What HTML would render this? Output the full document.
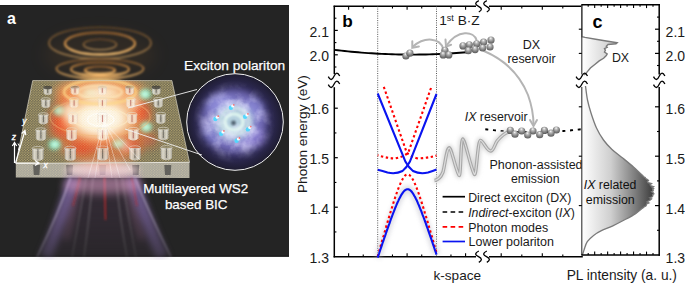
<!DOCTYPE html><html><head><meta charset="utf-8"><style>html,body{margin:0;padding:0;background:#fff;overflow:hidden}svg{display:block}text{font-family:"Liberation Sans",sans-serif}</style></head><body>
<svg width="685" height="283" viewBox="0 0 685 283">
<defs>
<filter id="b03" x="-50%" y="-50%" width="200%" height="200%"><feGaussianBlur stdDeviation="0.35"/></filter>
<filter id="b05" x="-50%" y="-50%" width="200%" height="200%"><feGaussianBlur stdDeviation="0.6"/></filter>
<filter id="b1" x="-50%" y="-50%" width="200%" height="200%"><feGaussianBlur stdDeviation="1"/></filter>
<filter id="b15" x="-50%" y="-50%" width="200%" height="200%"><feGaussianBlur stdDeviation="1.5"/></filter>
<filter id="b2" x="-50%" y="-50%" width="200%" height="200%"><feGaussianBlur stdDeviation="2"/></filter>
<filter id="b3" x="-50%" y="-50%" width="200%" height="200%"><feGaussianBlur stdDeviation="3"/></filter>
<filter id="b4" x="-50%" y="-50%" width="200%" height="200%"><feGaussianBlur stdDeviation="4"/></filter>
<filter id="b5" x="-50%" y="-50%" width="200%" height="200%"><feGaussianBlur stdDeviation="5"/></filter>
<filter id="b8" x="-50%" y="-50%" width="200%" height="200%"><feGaussianBlur stdDeviation="8"/></filter>
<radialGradient id="sph" cx="0.5" cy="0.4" r="0.6" fx="0.45" fy="0.22"><stop offset="0" stop-color="#ffffff"/><stop offset="0.25" stop-color="#c4c4c4"/><stop offset="0.6" stop-color="#8c8c8c"/><stop offset="1" stop-color="#585858"/></radialGradient>
<linearGradient id="dxg" x1="582" y1="0" x2="618" y2="0" gradientUnits="userSpaceOnUse"><stop offset="0" stop-color="#ffffff"/><stop offset="1" stop-color="#c4c4c4"/></linearGradient>
<linearGradient id="ixg" x1="582" y1="0" x2="654" y2="0" gradientUnits="userSpaceOnUse"><stop offset="0" stop-color="#ffffff"/><stop offset="0.4" stop-color="#cfcfcf"/><stop offset="0.75" stop-color="#7a7a7a"/><stop offset="1" stop-color="#3a3a3a"/></linearGradient>
<radialGradient id="circ" cx="0.5" cy="0.5" r="0.5"><stop offset="0" stop-color="#a8b0e0"/><stop offset="0.3" stop-color="#7a70c4"/><stop offset="0.55" stop-color="#4c4488"/><stop offset="0.78" stop-color="#2c2850"/><stop offset="1" stop-color="#1e1c30"/></radialGradient>
<radialGradient id="glow" cx="0.5" cy="0.5" r="0.5"><stop offset="0" stop-color="#ffffff"/><stop offset="0.35" stop-color="#fff2d0"/><stop offset="0.65" stop-color="#f8b070" stop-opacity="0.75"/><stop offset="1" stop-color="#f07030" stop-opacity="0"/></radialGradient>
<radialGradient id="redglow" cx="0.5" cy="0.5" r="0.5"><stop offset="0" stop-color="#ff3418" stop-opacity="0.95"/><stop offset="0.6" stop-color="#e82a14" stop-opacity="0.6"/><stop offset="1" stop-color="#c02010" stop-opacity="0"/></radialGradient>
<linearGradient id="beam" x1="33" y1="0" x2="172" y2="0" gradientUnits="userSpaceOnUse"><stop offset="0" stop-color="#5a4a80" stop-opacity="0.1"/><stop offset="0.12" stop-color="#8c74b4" stop-opacity="0.75"/><stop offset="0.3" stop-color="#8a5a88" stop-opacity="0.6"/><stop offset="0.5" stop-color="#5a2c38" stop-opacity="0.35"/><stop offset="0.7" stop-color="#8a5a88" stop-opacity="0.6"/><stop offset="0.88" stop-color="#8c74b4" stop-opacity="0.75"/><stop offset="1" stop-color="#5a4a80" stop-opacity="0.1"/></linearGradient>
<linearGradient id="beamv" x1="0" y1="176" x2="0" y2="257" gradientUnits="userSpaceOnUse"><stop offset="0" stop-color="#fff" stop-opacity="1"/><stop offset="0.5" stop-color="#fff" stop-opacity="0.75"/><stop offset="1" stop-color="#fff" stop-opacity="0.35"/></linearGradient>
<mask id="beammask"><rect x="0" y="170" width="289" height="90" fill="url(#beamv)"/></mask>
<pattern id="dots" x="0" y="0" width="2.8" height="2.5" patternUnits="userSpaceOnUse"><rect width="2.8" height="2.5" fill="#66624f"/><circle cx="0.7" cy="0.62" r="0.65" fill="#aa9c68"/><circle cx="2.1" cy="1.87" r="0.65" fill="#aa9c68"/></pattern>
<pattern id="dots2" x="0" y="0" width="2.8" height="2.5" patternUnits="userSpaceOnUse"><rect width="2.8" height="2.5" fill="#a4a29a"/><circle cx="0.7" cy="0.62" r="0.6" fill="#cfc8a8"/><circle cx="2.1" cy="1.87" r="0.6" fill="#cfc8a8"/></pattern>
<linearGradient id="cyl" x1="0" y1="0" x2="1" y2="0"><stop offset="0" stop-color="#a8a8a8"/><stop offset="0.2" stop-color="#f0f0f0"/><stop offset="0.42" stop-color="#c8c8c8"/><stop offset="0.58" stop-color="#c0c0c0"/><stop offset="0.8" stop-color="#ececec"/><stop offset="1" stop-color="#a0a0a0"/></linearGradient>
<filter id="neb" x="0" y="0" width="100%" height="100%"><feTurbulence type="fractalNoise" baseFrequency="0.07" numOctaves="4" seed="7" result="n"/><feColorMatrix in="n" type="matrix" values="0 0 0 0 0.78  0 0 0 0 0.76  0 0 0 0 1  2.2 0 0 0 -0.75"/><feComposite in2="SourceGraphic" operator="in"/></filter>
<radialGradient id="nebfall" cx="0.5" cy="0.5" r="0.5"><stop offset="0" stop-color="#fff" stop-opacity="1"/><stop offset="0.45" stop-color="#fff" stop-opacity="0.9"/><stop offset="0.72" stop-color="#fff" stop-opacity="0.3"/><stop offset="0.9" stop-color="#fff" stop-opacity="0"/></radialGradient>
<mask id="nebmask"><circle cx="234" cy="122" r="46" fill="url(#nebfall)"/></mask>
<pattern id="dotsonly" x="0" y="0" width="2.8" height="2.5" patternUnits="userSpaceOnUse"><circle cx="0.7" cy="0.62" r="0.65" fill="#f0d890"/><circle cx="2.1" cy="1.87" r="0.65" fill="#f0d890"/></pattern>
<radialGradient id="wglow" cx="0.5" cy="0.5" r="0.5"><stop offset="0" stop-color="#ffffff" stop-opacity="1"/><stop offset="0.5" stop-color="#fffaf0" stop-opacity="0.88"/><stop offset="0.8" stop-color="#ffd8b0" stop-opacity="0.4"/><stop offset="1" stop-color="#ffb080" stop-opacity="0"/></radialGradient>
<linearGradient id="cylp" x1="0" y1="0" x2="1" y2="0"><stop offset="0" stop-color="#e8c8c0"/><stop offset="0.2" stop-color="#ffffff"/><stop offset="0.5" stop-color="#f4dcd8"/><stop offset="0.8" stop-color="#ffffff"/><stop offset="1" stop-color="#e0c0b8"/></linearGradient>
</defs>
<rect x="0" y="5" width="289" height="251.7" fill="#242424"/>
<rect x="0" y="5" width="289" height="0.8" fill="#1c1c1c"/>
<rect x="0" y="255.6" width="289" height="1.1" fill="#1a1a1a"/>
<linearGradient id="ringg" x1="0" y1="0" x2="0" y2="1"><stop offset="0" stop-color="#8a5a2c"/><stop offset="0.5" stop-color="#d09048"/><stop offset="1" stop-color="#ffc878"/></linearGradient>
<ellipse cx="100" cy="55" rx="56" ry="24" fill="#6a4a28" opacity="0.18" filter="url(#b8)"/>
<g fill="none" stroke="url(#ringg)" filter="url(#b1)">
<ellipse cx="100" cy="43" rx="51" ry="15.7" stroke-width="1.8" opacity="0.5"/>
<ellipse cx="100" cy="43.5" rx="35" ry="11" stroke-width="2.4" opacity="0.9"/>
<ellipse cx="100" cy="44.5" rx="16.5" ry="5.3" stroke-width="1.6" opacity="0.55"/>
<ellipse cx="100" cy="68.8" rx="43.5" ry="9.8" stroke-width="2" opacity="0.7"/>
<ellipse cx="100" cy="69.2" rx="29" ry="6.8" stroke-width="2.2" opacity="0.85"/>
<ellipse cx="100" cy="70.3" rx="15" ry="3.8" stroke-width="2.2" opacity="0.9"/>
</g>
<ellipse cx="100" cy="76" rx="22" ry="3.5" fill="#f8b868" opacity="0.45" filter="url(#b2)"/>
<polygon points="15.8,163.5 189.5,162.3 189.5,177.9 15.8,177.4" fill="url(#dots2)"/>
<polygon points="32.7,80.6 171.9,80.6 189.5,162.3 15.8,163.5" fill="url(#dots)"/>
<path d="M33.1,165 L40.1,165 L39.4,175 L33.8,175 Z" fill="#4a4a46" opacity="0.75" filter="url(#b05)"/>
<path d="M66.1,165 L73.1,165 L72.4,175 L66.8,175 Z" fill="#4a4a46" opacity="0.75" filter="url(#b05)"/>
<path d="M99.1,165 L106.1,165 L105.4,175 L99.8,175 Z" fill="#4a4a46" opacity="0.75" filter="url(#b05)"/>
<path d="M132.2,165 L139.2,165 L138.5,175 L132.9,175 Z" fill="#4a4a46" opacity="0.75" filter="url(#b05)"/>
<path d="M164.3,165 L171.3,165 L170.6,175 L165.0,175 Z" fill="#4a4a46" opacity="0.75" filter="url(#b05)"/>
<clipPath id="slabclip"><polygon points="32.7,80.6 171.9,80.6 189.5,162.3 189.5,177.9 15.8,177.4 15.8,163.5"/></clipPath>
<g clip-path="url(#slabclip)">
<g filter="url(#b5)">
<ellipse cx="101" cy="122" rx="50" ry="46" fill="#f07840" opacity="0.6"/>
<ellipse cx="100" cy="92" rx="46" ry="15" fill="#f89050" opacity="0.75"/>
</g>
<g filter="url(#b4)">
<ellipse cx="64" cy="122" rx="17" ry="20" fill="url(#redglow)" opacity="1.0"/>
<ellipse cx="138" cy="112" rx="15" ry="13" fill="url(#redglow)" opacity="1.0"/>
<ellipse cx="82" cy="148" rx="16" ry="8" fill="url(#redglow)" opacity="0.9"/>
<ellipse cx="130" cy="146" rx="14" ry="8" fill="url(#redglow)" opacity="0.85"/>
<ellipse cx="100" cy="138" rx="38" ry="16" fill="url(#redglow)" opacity="0.6"/>
<ellipse cx="70" cy="100" rx="11" ry="8" fill="url(#redglow)" opacity="0.7"/>
<ellipse cx="150" cy="140" rx="10" ry="8" fill="url(#redglow)" opacity="0.6"/>
</g>
<ellipse cx="102" cy="170" rx="38" ry="8" fill="#fad8e0" opacity="0.7" filter="url(#b3)"/>
</g>
<path d="M43.3,87.5 L52.2,87.5 L52.0,93.2 Q47.7,97.0 43.5,93.2 Z" fill="url(#cyl)" opacity="0.8"/><ellipse cx="47.7" cy="87.5" rx="4.4" ry="1.8" fill="#333" opacity="0.85"/><line x1="47.7" y1="88.3" x2="47.7" y2="92.9" stroke="#3a3a3a" stroke-width="1.1" opacity="0.65"/>
<path d="M70.6,87.5 L79.5,87.5 L79.3,93.1 Q75.0,96.9 70.8,93.1 Z" fill="url(#cyl)" opacity="0.8"/><ellipse cx="75.0" cy="87.5" rx="4.4" ry="1.8" fill="#333" opacity="0.85"/><line x1="75.0" y1="88.3" x2="75.0" y2="92.8" stroke="#3a3a3a" stroke-width="1.1" opacity="0.65"/>
<path d="M97.9,87.5 L106.8,87.5 L106.6,93.1 Q102.3,96.9 98.1,93.1 Z" fill="url(#cyl)" opacity="0.8"/><ellipse cx="102.3" cy="87.5" rx="4.4" ry="1.8" fill="#333" opacity="0.85"/><line x1="102.3" y1="88.3" x2="102.3" y2="92.8" stroke="#3a3a3a" stroke-width="1.1" opacity="0.65"/>
<path d="M125.2,87.4 L134.1,87.4 L133.9,93.1 Q129.7,96.9 125.4,93.1 Z" fill="url(#cyl)" opacity="0.8"/><ellipse cx="129.7" cy="87.4" rx="4.4" ry="1.8" fill="#333" opacity="0.85"/><line x1="129.7" y1="88.2" x2="129.7" y2="92.8" stroke="#3a3a3a" stroke-width="1.1" opacity="0.65"/>
<path d="M151.8,87.4 L160.7,87.4 L160.5,93.0 Q156.2,96.8 152.0,93.0 Z" fill="url(#cyl)" opacity="0.8"/><ellipse cx="156.2" cy="87.4" rx="4.4" ry="1.8" fill="#333" opacity="0.85"/><line x1="156.2" y1="88.2" x2="156.2" y2="92.7" stroke="#3a3a3a" stroke-width="1.1" opacity="0.65"/>
<path d="M41.1,99.5 L50.5,99.5 L50.3,106.2 Q45.8,110.0 41.3,106.2 Z" fill="url(#cyl)" opacity="0.8"/><ellipse cx="45.8" cy="99.5" rx="4.7" ry="1.8" fill="none" stroke="#e0e0e0" stroke-width="0.7" opacity="0.8"/><line x1="45.8" y1="100.3" x2="45.8" y2="105.9" stroke="#3a3a3a" stroke-width="1.1" opacity="0.65"/>
<path d="M69.4,99.5 L78.8,99.5 L78.6,106.1 Q74.1,109.9 69.6,106.1 Z" fill="url(#cyl)" opacity="0.8"/><ellipse cx="74.1" cy="99.5" rx="4.7" ry="1.8" fill="none" stroke="#e0e0e0" stroke-width="0.7" opacity="0.8"/><line x1="74.1" y1="100.3" x2="74.1" y2="105.8" stroke="#3a3a3a" stroke-width="1.1" opacity="0.65"/>
<path d="M97.7,99.4 L107.1,99.4 L106.9,106.0 Q102.4,109.8 97.9,106.0 Z" fill="url(#cyl)" opacity="0.8"/><ellipse cx="102.4" cy="99.4" rx="4.7" ry="1.8" fill="none" stroke="#e0e0e0" stroke-width="0.7" opacity="0.8"/><line x1="102.4" y1="100.2" x2="102.4" y2="105.7" stroke="#3a3a3a" stroke-width="1.1" opacity="0.65"/>
<path d="M126.0,99.3 L135.4,99.3 L135.2,106.0 Q130.7,109.8 126.2,106.0 Z" fill="url(#cyl)" opacity="0.8"/><ellipse cx="130.7" cy="99.3" rx="4.7" ry="1.8" fill="none" stroke="#e0e0e0" stroke-width="0.7" opacity="0.8"/><line x1="130.7" y1="100.1" x2="130.7" y2="105.7" stroke="#3a3a3a" stroke-width="1.1" opacity="0.65"/>
<path d="M153.5,99.3 L163.0,99.3 L162.8,105.9 Q158.2,109.7 153.7,105.9 Z" fill="url(#cyl)" opacity="0.8"/><ellipse cx="158.2" cy="99.3" rx="4.7" ry="1.8" fill="none" stroke="#e0e0e0" stroke-width="0.7" opacity="0.8"/><line x1="158.2" y1="100.1" x2="158.2" y2="105.6" stroke="#3a3a3a" stroke-width="1.1" opacity="0.65"/>
<path d="M38.3,114.6 L48.4,114.6 L48.2,122.5 Q43.4,126.3 38.5,122.5 Z" fill="url(#cyl)" opacity="0.8"/><ellipse cx="43.4" cy="114.6" rx="5.0" ry="1.9" fill="none" stroke="#e0e0e0" stroke-width="0.7" opacity="0.8"/><line x1="43.4" y1="115.4" x2="43.4" y2="122.2" stroke="#3a3a3a" stroke-width="1.1" opacity="0.65"/>
<path d="M67.9,114.5 L78.0,114.5 L77.8,122.4 Q72.9,126.2 68.1,122.4 Z" fill="url(#cyl)" opacity="0.8"/><ellipse cx="72.9" cy="114.5" rx="5.0" ry="1.9" fill="none" stroke="#e0e0e0" stroke-width="0.7" opacity="0.8"/><line x1="72.9" y1="115.3" x2="72.9" y2="122.1" stroke="#3a3a3a" stroke-width="1.1" opacity="0.65"/>
<path d="M97.4,114.4 L107.5,114.4 L107.3,122.3 Q102.5,126.1 97.6,122.3 Z" fill="url(#cyl)" opacity="0.8"/><ellipse cx="102.5" cy="114.4" rx="5.0" ry="1.9" fill="none" stroke="#e0e0e0" stroke-width="0.7" opacity="0.8"/><line x1="102.5" y1="115.2" x2="102.5" y2="122.0" stroke="#3a3a3a" stroke-width="1.1" opacity="0.65"/>
<path d="M127.0,114.3 L137.1,114.3 L136.9,122.2 Q132.0,126.0 127.2,122.2 Z" fill="url(#cyl)" opacity="0.8"/><ellipse cx="132.0" cy="114.3" rx="5.0" ry="1.9" fill="none" stroke="#e0e0e0" stroke-width="0.7" opacity="0.8"/><line x1="132.0" y1="115.1" x2="132.0" y2="121.9" stroke="#3a3a3a" stroke-width="1.1" opacity="0.65"/>
<path d="M155.7,114.2 L165.8,114.2 L165.6,122.1 Q160.8,125.9 155.9,122.1 Z" fill="url(#cyl)" opacity="0.8"/><ellipse cx="160.8" cy="114.2" rx="5.0" ry="1.9" fill="none" stroke="#e0e0e0" stroke-width="0.7" opacity="0.8"/><line x1="160.8" y1="115.0" x2="160.8" y2="121.8" stroke="#3a3a3a" stroke-width="1.1" opacity="0.65"/>
<path d="M35.6,129.8 L46.3,129.8 L46.1,138.9 Q40.9,142.7 35.8,138.9 Z" fill="url(#cyl)" opacity="0.8"/><ellipse cx="40.9" cy="129.8" rx="5.4" ry="2.0" fill="none" stroke="#e0e0e0" stroke-width="0.7" opacity="0.8"/><line x1="40.9" y1="130.6" x2="40.9" y2="138.6" stroke="#3a3a3a" stroke-width="1.1" opacity="0.65"/>
<path d="M66.3,129.7 L77.1,129.7 L76.9,138.8 Q71.7,142.6 66.5,138.8 Z" fill="url(#cyl)" opacity="0.8"/><ellipse cx="71.7" cy="129.7" rx="5.4" ry="2.0" fill="none" stroke="#e0e0e0" stroke-width="0.7" opacity="0.8"/><line x1="71.7" y1="130.5" x2="71.7" y2="138.5" stroke="#3a3a3a" stroke-width="1.1" opacity="0.65"/>
<path d="M97.1,129.5 L107.9,129.5 L107.7,138.6 Q102.5,142.4 97.3,138.6 Z" fill="url(#cyl)" opacity="0.8"/><ellipse cx="102.5" cy="129.5" rx="5.4" ry="2.0" fill="none" stroke="#e0e0e0" stroke-width="0.7" opacity="0.8"/><line x1="102.5" y1="130.3" x2="102.5" y2="138.3" stroke="#3a3a3a" stroke-width="1.1" opacity="0.65"/>
<path d="M127.9,129.4 L138.7,129.4 L138.5,138.5 Q133.3,142.3 128.1,138.5 Z" fill="url(#cyl)" opacity="0.8"/><ellipse cx="133.3" cy="129.4" rx="5.4" ry="2.0" fill="none" stroke="#e0e0e0" stroke-width="0.7" opacity="0.8"/><line x1="133.3" y1="130.2" x2="133.3" y2="138.2" stroke="#3a3a3a" stroke-width="1.1" opacity="0.65"/>
<path d="M157.9,129.2 L168.7,129.2 L168.5,138.3 Q163.3,142.1 158.1,138.3 Z" fill="url(#cyl)" opacity="0.8"/><ellipse cx="163.3" cy="129.2" rx="5.4" ry="2.0" fill="none" stroke="#e0e0e0" stroke-width="0.7" opacity="0.8"/><line x1="163.3" y1="130.0" x2="163.3" y2="138.0" stroke="#3a3a3a" stroke-width="1.1" opacity="0.65"/>
<path d="M32.1,148.5 L43.8,148.5 L43.6,159.1 Q37.9,162.9 32.3,159.1 Z" fill="url(#cyl)" opacity="0.8"/><ellipse cx="37.9" cy="148.5" rx="5.8" ry="2.1" fill="none" stroke="#e0e0e0" stroke-width="0.7" opacity="0.8"/><line x1="37.9" y1="149.3" x2="37.9" y2="158.8" stroke="#3a3a3a" stroke-width="1.1" opacity="0.65"/>
<path d="M64.5,148.3 L76.1,148.3 L75.9,158.9 Q70.3,162.7 64.7,158.9 Z" fill="url(#cyl)" opacity="0.8"/><ellipse cx="70.3" cy="148.3" rx="5.8" ry="2.1" fill="none" stroke="#e0e0e0" stroke-width="0.7" opacity="0.8"/><line x1="70.3" y1="149.1" x2="70.3" y2="158.6" stroke="#3a3a3a" stroke-width="1.1" opacity="0.65"/>
<path d="M96.8,148.1 L108.4,148.1 L108.2,158.7 Q102.6,162.5 97.0,158.7 Z" fill="url(#cyl)" opacity="0.8"/><ellipse cx="102.6" cy="148.1" rx="5.8" ry="2.1" fill="none" stroke="#e0e0e0" stroke-width="0.7" opacity="0.8"/><line x1="102.6" y1="148.9" x2="102.6" y2="158.4" stroke="#3a3a3a" stroke-width="1.1" opacity="0.65"/>
<path d="M129.1,147.9 L140.8,147.9 L140.6,158.5 Q134.9,162.3 129.3,158.5 Z" fill="url(#cyl)" opacity="0.8"/><ellipse cx="134.9" cy="147.9" rx="5.8" ry="2.1" fill="none" stroke="#e0e0e0" stroke-width="0.7" opacity="0.8"/><line x1="134.9" y1="148.7" x2="134.9" y2="158.2" stroke="#3a3a3a" stroke-width="1.1" opacity="0.65"/>
<path d="M160.6,147.7 L172.2,147.7 L172.0,158.3 Q166.4,162.1 160.8,158.3 Z" fill="url(#cyl)" opacity="0.8"/><ellipse cx="166.4" cy="147.7" rx="5.8" ry="2.1" fill="none" stroke="#e0e0e0" stroke-width="0.7" opacity="0.8"/><line x1="166.4" y1="148.5" x2="166.4" y2="158.0" stroke="#3a3a3a" stroke-width="1.1" opacity="0.65"/>
<g filter="url(#b2)">
<ellipse cx="59.7" cy="110.9" rx="5.8" ry="5" fill="#70ffe0" opacity="0.95"/><ellipse cx="59.7" cy="110.9" rx="2.6" ry="2.2" fill="#e8fff8"/>
<ellipse cx="144.9" cy="94.2" rx="5.8" ry="5" fill="#70ffe0" opacity="0.95"/><ellipse cx="144.9" cy="94.2" rx="2.6" ry="2.2" fill="#e8fff8"/>
<ellipse cx="90" cy="95" rx="5.8" ry="5" fill="#70ffe0" opacity="0.95"/><ellipse cx="90" cy="95" rx="2.6" ry="2.2" fill="#e8fff8"/>
<ellipse cx="146" cy="127" rx="5.8" ry="5" fill="#70ffe0" opacity="0.95"/><ellipse cx="146" cy="127" rx="2.6" ry="2.2" fill="#e8fff8"/>
<ellipse cx="54.8" cy="144.4" rx="5.8" ry="5" fill="#70ffe0" opacity="0.95"/><ellipse cx="54.8" cy="144.4" rx="2.6" ry="2.2" fill="#e8fff8"/>
<ellipse cx="118" cy="143" rx="5.8" ry="5" fill="#70ffe0" opacity="0.95"/><ellipse cx="118" cy="143" rx="2.6" ry="2.2" fill="#e8fff8"/>
</g>
<ellipse cx="100" cy="116" rx="48" ry="36" fill="url(#glow)" opacity="0.9" filter="url(#b3)"/>
<ellipse cx="100" cy="119" rx="40" ry="24" fill="url(#wglow)" opacity="0.95" filter="url(#b2)"/>
<ellipse cx="100" cy="96" rx="34" ry="12" fill="url(#wglow)" opacity="0.55" filter="url(#b3)"/>
<ellipse cx="100" cy="92" rx="40" ry="13" fill="url(#glow)" opacity="0.6" filter="url(#b3)"/>
<g filter="url(#b3)" fill="#fff8e8">
<ellipse cx="70" cy="112" rx="7" ry="9" opacity="0.7"/>
<ellipse cx="133" cy="102" rx="7" ry="7" opacity="0.6"/>
<ellipse cx="125" cy="146" rx="6" ry="6" opacity="0.5"/>
</g>
<g fill="none" filter="url(#b05)">
<ellipse cx="100.7" cy="119.8" rx="13.3" ry="6.3" stroke="#ffffff" stroke-width="1.5"/>
<ellipse cx="100" cy="118.5" rx="28" ry="10" stroke="#fff0d0" stroke-width="1.3" opacity="0.6"/>
<ellipse cx="100" cy="117" rx="50" ry="19" stroke="#f0b070" stroke-width="1.2" opacity="0.45"/>
</g>
<g fill="none" filter="url(#b1)">
<ellipse cx="100" cy="92" rx="36" ry="12" stroke="#ffd888" stroke-width="2.6" opacity="0.85"/>
<ellipse cx="100" cy="92" rx="22" ry="6.5" stroke="#fff0c8" stroke-width="2" opacity="0.75"/>
</g>
<path d="M70.6,87.5 L79.5,87.5 L79.3,93.1 Q75.0,96.9 70.8,93.1 Z" fill="url(#cylp)" opacity="0.5"/><ellipse cx="75.0" cy="87.5" rx="4.4" ry="1.8" fill="none" stroke="#e0e0e0" stroke-width="0.7" opacity="0.5"/><line x1="75.0" y1="88.3" x2="75.0" y2="92.8" stroke="#b05050" stroke-width="1.1" opacity="0.65"/>
<path d="M97.9,87.5 L106.8,87.5 L106.6,93.1 Q102.3,96.9 98.1,93.1 Z" fill="url(#cylp)" opacity="0.5"/><ellipse cx="102.3" cy="87.5" rx="4.4" ry="1.8" fill="none" stroke="#e0e0e0" stroke-width="0.7" opacity="0.5"/><line x1="102.3" y1="88.3" x2="102.3" y2="92.8" stroke="#b05050" stroke-width="1.1" opacity="0.65"/>
<path d="M125.2,87.4 L134.1,87.4 L133.9,93.1 Q129.7,96.9 125.4,93.1 Z" fill="url(#cylp)" opacity="0.5"/><ellipse cx="129.7" cy="87.4" rx="4.4" ry="1.8" fill="none" stroke="#e0e0e0" stroke-width="0.7" opacity="0.5"/><line x1="129.7" y1="88.2" x2="129.7" y2="92.8" stroke="#b05050" stroke-width="1.1" opacity="0.65"/>
<path d="M69.4,99.5 L78.8,99.5 L78.6,106.1 Q74.1,109.9 69.6,106.1 Z" fill="url(#cylp)" opacity="0.5"/><ellipse cx="74.1" cy="99.5" rx="4.7" ry="1.8" fill="none" stroke="#e0e0e0" stroke-width="0.7" opacity="0.5"/><line x1="74.1" y1="100.3" x2="74.1" y2="105.8" stroke="#b05050" stroke-width="1.1" opacity="0.65"/>
<path d="M97.7,99.4 L107.1,99.4 L106.9,106.0 Q102.4,109.8 97.9,106.0 Z" fill="url(#cylp)" opacity="0.5"/><ellipse cx="102.4" cy="99.4" rx="4.7" ry="1.8" fill="none" stroke="#e0e0e0" stroke-width="0.7" opacity="0.5"/><line x1="102.4" y1="100.2" x2="102.4" y2="105.7" stroke="#b05050" stroke-width="1.1" opacity="0.65"/>
<path d="M126.0,99.3 L135.4,99.3 L135.2,106.0 Q130.7,109.8 126.2,106.0 Z" fill="url(#cylp)" opacity="0.5"/><ellipse cx="130.7" cy="99.3" rx="4.7" ry="1.8" fill="none" stroke="#e0e0e0" stroke-width="0.7" opacity="0.5"/><line x1="130.7" y1="100.1" x2="130.7" y2="105.7" stroke="#b05050" stroke-width="1.1" opacity="0.65"/>
<path d="M67.9,114.5 L78.0,114.5 L77.8,122.4 Q72.9,126.2 68.1,122.4 Z" fill="url(#cylp)" opacity="0.5"/><ellipse cx="72.9" cy="114.5" rx="5.0" ry="1.9" fill="none" stroke="#e0e0e0" stroke-width="0.7" opacity="0.5"/><line x1="72.9" y1="115.3" x2="72.9" y2="122.1" stroke="#b05050" stroke-width="1.1" opacity="0.65"/>
<path d="M97.4,114.4 L107.5,114.4 L107.3,122.3 Q102.5,126.1 97.6,122.3 Z" fill="url(#cylp)" opacity="0.5"/><ellipse cx="102.5" cy="114.4" rx="5.0" ry="1.9" fill="none" stroke="#e0e0e0" stroke-width="0.7" opacity="0.5"/><line x1="102.5" y1="115.2" x2="102.5" y2="122.0" stroke="#b05050" stroke-width="1.1" opacity="0.65"/>
<path d="M127.0,114.3 L137.1,114.3 L136.9,122.2 Q132.0,126.0 127.2,122.2 Z" fill="url(#cylp)" opacity="0.5"/><ellipse cx="132.0" cy="114.3" rx="5.0" ry="1.9" fill="none" stroke="#e0e0e0" stroke-width="0.7" opacity="0.5"/><line x1="132.0" y1="115.1" x2="132.0" y2="121.9" stroke="#b05050" stroke-width="1.1" opacity="0.65"/>
<path d="M66.3,129.7 L77.1,129.7 L76.9,138.8 Q71.7,142.6 66.5,138.8 Z" fill="url(#cylp)" opacity="0.5"/><ellipse cx="71.7" cy="129.7" rx="5.4" ry="2.0" fill="none" stroke="#e0e0e0" stroke-width="0.7" opacity="0.5"/><line x1="71.7" y1="130.5" x2="71.7" y2="138.5" stroke="#b05050" stroke-width="1.1" opacity="0.65"/>
<path d="M97.1,129.5 L107.9,129.5 L107.7,138.6 Q102.5,142.4 97.3,138.6 Z" fill="url(#cylp)" opacity="0.5"/><ellipse cx="102.5" cy="129.5" rx="5.4" ry="2.0" fill="none" stroke="#e0e0e0" stroke-width="0.7" opacity="0.5"/><line x1="102.5" y1="130.3" x2="102.5" y2="138.3" stroke="#b05050" stroke-width="1.1" opacity="0.65"/>
<path d="M127.9,129.4 L138.7,129.4 L138.5,138.5 Q133.3,142.3 128.1,138.5 Z" fill="url(#cylp)" opacity="0.5"/><ellipse cx="133.3" cy="129.4" rx="5.4" ry="2.0" fill="none" stroke="#e0e0e0" stroke-width="0.7" opacity="0.5"/><line x1="133.3" y1="130.2" x2="133.3" y2="138.2" stroke="#b05050" stroke-width="1.1" opacity="0.65"/>
<polygon points="32.7,80.6 171.9,80.6 189.5,162.3 15.8,163.5" fill="url(#dotsonly)" opacity="0.35"/>
<g stroke="#fff" stroke-width="0.8" opacity="0.5" filter="url(#b05)">
<line x1="104" y1="122" x2="120" y2="178"/>
<line x1="104" y1="122" x2="112" y2="178"/>
<line x1="104" y1="122" x2="95" y2="178"/>
<line x1="104" y1="122" x2="88" y2="178"/>
<line x1="104" y1="122" x2="130" y2="170"/>
<line x1="104" y1="122" x2="140" y2="160"/>
</g>
<polyline points="15.8,163.5 32.7,80.6 171.9,80.6 189.5,162.3" fill="none" stroke="#d8d4c4" stroke-width="0.9" opacity="0.75"/>
<line x1="15.8" y1="163.5" x2="189.5" y2="162.3" stroke="#e4e2d8" stroke-width="1"/>
<g mask="url(#beammask)">
<path d="M70.5,178 Q58,215 37,257 L171,257 Q150,215 135,178 Z" fill="#4a3450" opacity="0.45" filter="url(#b3)"/>
<g fill="none" filter="url(#b3)">
<path d="M73,178 Q63,215 46,257" stroke="#9a7ccc" stroke-width="12" opacity="0.65"/>
<path d="M132,178 Q144,215 162,257" stroke="#9a7ccc" stroke-width="12" opacity="0.65"/>
<path d="M80,178 Q74,210 66,240" stroke="#c080b0" stroke-width="6" opacity="0.35"/>
<path d="M126,178 Q132,210 142,240" stroke="#c080b0" stroke-width="6" opacity="0.35"/>
</g>
<g stroke-width="1.2" fill="none" filter="url(#b1)">
<path d="M104.5,178 L105.5,220" stroke="#ff2a2a" opacity="0.95"/>
<path d="M80,178 L73,206" stroke="#e02828" opacity="0.7"/>
<path d="M132,178 L137,206" stroke="#e02828" opacity="0.7"/>
<path d="M93,178 Q89,220 84,257" stroke="#ffffff" opacity="0.3"/>
<path d="M116,178 Q120,220 127,257" stroke="#ffffff" opacity="0.3"/>
<path d="M70.5,178 Q58,215 37,257" stroke="#e8d8ff" opacity="0.75"/>
<path d="M135,178 Q150,215 171,257" stroke="#e8d8ff" opacity="0.75"/>
<path d="M86,178 Q80,215 72,257" stroke="#ffffff" opacity="0.25"/>
<path d="M122,178 Q128,215 136,257" stroke="#ffffff" opacity="0.25"/>
</g>
<ellipse cx="103" cy="185" rx="40" ry="9" fill="#e8a8d0" opacity="0.55" filter="url(#b4)"/>
</g>
<circle cx="235" cy="122" r="48.3" fill="url(#circ)"/>
<g filter="url(#b3)">
<ellipse cx="233" cy="121" rx="33" ry="31" fill="#8e88d8" opacity="0.55"/>
<ellipse cx="220" cy="104" rx="14" ry="10" fill="#a0a0f0" opacity="0.55"/>
<ellipse cx="252" cy="138" rx="14" ry="10" fill="#a090e8" opacity="0.5"/>
<ellipse cx="214" cy="132" rx="10" ry="12" fill="#9090e0" opacity="0.45"/>
<ellipse cx="254" cy="108" rx="10" ry="10" fill="#9a9ae8" opacity="0.45"/>
<ellipse cx="234" cy="122" rx="19" ry="18" fill="#c0e4e0" opacity="0.75"/>
</g>
<g mask="url(#nebmask)"><rect x="186" y="74" width="97" height="97" fill="#fff" filter="url(#neb)" opacity="0.85"/></g>
<g filter="url(#b1)"><ellipse cx="234" cy="122" rx="9" ry="8" fill="none" stroke="#eafff4" stroke-width="3.5" opacity="0.75"/><ellipse cx="235" cy="121" rx="14" ry="13" fill="none" stroke="#d8f4e8" stroke-width="2" opacity="0.5"/><circle cx="233.5" cy="123" r="2.4" fill="#506070"/></g>
<circle cx="230.89999999999998" cy="107.7" r="2.2" fill="#50d8ff" opacity="0.95" filter="url(#b03)"/><circle cx="232.7" cy="105.9" r="1.5" fill="#ffffff" opacity="0.95"/><circle cx="233.7" cy="104.9" r="0.9" fill="#ff6060" opacity="0.8"/>
<circle cx="245.1" cy="116.7" r="2.2" fill="#50d8ff" opacity="0.95" filter="url(#b03)"/><circle cx="246.9" cy="114.9" r="1.5" fill="#ffffff" opacity="0.95"/><circle cx="247.9" cy="113.9" r="0.9" fill="#ff6060" opacity="0.8"/>
<circle cx="247.89999999999998" cy="129.4" r="2.2" fill="#50d8ff" opacity="0.95" filter="url(#b03)"/><circle cx="249.7" cy="127.6" r="1.5" fill="#ffffff" opacity="0.95"/><circle cx="250.7" cy="126.6" r="0.9" fill="#ff6060" opacity="0.8"/>
<circle cx="236.6" cy="140.8" r="2.2" fill="#50d8ff" opacity="0.95" filter="url(#b03)"/><circle cx="238.4" cy="139.0" r="1.5" fill="#ffffff" opacity="0.95"/><circle cx="239.4" cy="138" r="0.9" fill="#ff6060" opacity="0.8"/>
<circle cx="221.1" cy="133.70000000000002" r="2.2" fill="#50d8ff" opacity="0.95" filter="url(#b03)"/><circle cx="222.9" cy="131.9" r="1.5" fill="#ffffff" opacity="0.95"/><circle cx="223.9" cy="130.9" r="0.9" fill="#ff6060" opacity="0.8"/>
<circle cx="215.39999999999998" cy="119.0" r="2.2" fill="#50d8ff" opacity="0.95" filter="url(#b03)"/><circle cx="217.2" cy="117.2" r="1.5" fill="#ffffff" opacity="0.95"/><circle cx="218.2" cy="116.2" r="0.9" fill="#ff6060" opacity="0.8"/>
<circle cx="235" cy="122" r="48.3" fill="none" stroke="#f2f2f2" stroke-width="1"/>
<line x1="197" y1="89.5" x2="128" y2="108" stroke="#f0f0f0" stroke-width="0.9"/>
<line x1="202" y1="155" x2="125" y2="129" stroke="#f0f0f0" stroke-width="0.9"/>
<g stroke="#fff" stroke-width="1.2" fill="none">
<path d="M15.6,163 L38.5,163 M35,160.5 L38.9,163 L35,165.5"/>
<path d="M15.6,163 L25,130.5 M21.6,133.5 L25,130.5 L25.8,135"/>
<path d="M14.5,163 L14.5,142.5 M12.3,146 L14.5,142.5 L16.7,146"/>
</g>
<text x="43.6" y="168.3" font-size="8.5" text-anchor="start" font-weight="normal" fill="#fff" font-style="italic" stroke="#fff" stroke-width="0.3">x</text>
<text x="22.3" y="124.2" font-size="8.5" text-anchor="start" font-weight="normal" fill="#fff" font-style="italic" stroke="#fff" stroke-width="0.3">y</text>
<text x="11.8" y="139.6" font-size="8.5" text-anchor="start" font-weight="normal" fill="#fff" font-style="italic" stroke="#fff" stroke-width="0.3">z</text>
<path d="M18.5,150 Q21,146 18,143.5" fill="none" stroke="#fff" stroke-width="1"/>
<text x="7.1" y="23.7" font-size="16" text-anchor="start" font-weight="bold" fill="#fff" >a</text>
<text x="184.0" y="70.2" font-size="13.7" text-anchor="start" font-weight="normal" fill="#fff" stroke="#fff" stroke-width="0.25">Exciton polariton</text>
<text x="195.7" y="193.2" font-size="13.4" text-anchor="middle" font-weight="normal" fill="#fff" stroke="#fff" stroke-width="0.25">Multilayered WS2</text>
<text x="196.2" y="208.6" font-size="13.4" text-anchor="middle" font-weight="normal" fill="#fff" stroke="#fff" stroke-width="0.25">based BIC</text>
<line x1="334.30" y1="5.70" x2="334.30" y2="74.20" stroke="#000" stroke-width="1.5" />
<line x1="334.30" y1="87.20" x2="334.30" y2="257.40" stroke="#000" stroke-width="1.5" />
<path d="M328.3,76.6 C330.2,80.5 332.2,80.5 334.0,76.3 S337.8,72.1 339.7,76.0" fill="none" stroke="#000" stroke-width="1.3"/><path d="M328.3,84.6 C330.2,88.5 332.2,88.5 334.0,84.3 S337.8,80.1 339.7,84.0" fill="none" stroke="#000" stroke-width="1.3"/>
<line x1="333.60" y1="6.30" x2="476.00" y2="6.30" stroke="#000" stroke-width="1.4" />
<line x1="489.00" y1="6.30" x2="581.80" y2="6.30" stroke="#000" stroke-width="1.4" />
<path d="M478.8,0.6 C474.7,2.5 474.7,4.5 478.5,6.3 S482.3,10.1 478.8,12.0" fill="none" stroke="#000" stroke-width="1.3"/><path d="M486.8,0.6 C482.7,2.5 482.7,4.5 486.5,6.3 S490.3,10.1 486.8,12.0" fill="none" stroke="#000" stroke-width="1.3"/>
<line x1="333.60" y1="256.70" x2="476.00" y2="256.70" stroke="#000" stroke-width="1.5" />
<line x1="489.00" y1="256.70" x2="582.80" y2="256.70" stroke="#000" stroke-width="1.5" />
<path d="M478.8,251.0 C474.7,252.9 474.7,254.9 478.5,256.7 S482.3,260.5 478.8,262.4" fill="none" stroke="#000" stroke-width="1.3"/><path d="M486.8,251.0 C482.7,252.9 482.7,254.9 486.5,256.7 S490.3,260.5 486.8,262.4" fill="none" stroke="#000" stroke-width="1.3"/>
<line x1="348.62" y1="256.70" x2="348.62" y2="253.30" stroke="#000" stroke-width="1.1" />
<line x1="348.62" y1="6.30" x2="348.62" y2="9.70" stroke="#000" stroke-width="1.1" />
<line x1="363.24" y1="256.70" x2="363.24" y2="254.50" stroke="#000" stroke-width="1.1" />
<line x1="363.24" y1="6.30" x2="363.24" y2="8.50" stroke="#000" stroke-width="1.1" />
<line x1="392.48" y1="256.70" x2="392.48" y2="254.50" stroke="#000" stroke-width="1.1" />
<line x1="392.48" y1="6.30" x2="392.48" y2="8.50" stroke="#000" stroke-width="1.1" />
<line x1="407.10" y1="256.70" x2="407.10" y2="253.30" stroke="#000" stroke-width="1.1" />
<line x1="407.10" y1="6.30" x2="407.10" y2="9.70" stroke="#000" stroke-width="1.1" />
<line x1="421.72" y1="256.70" x2="421.72" y2="254.50" stroke="#000" stroke-width="1.1" />
<line x1="421.72" y1="6.30" x2="421.72" y2="8.50" stroke="#000" stroke-width="1.1" />
<line x1="450.96" y1="256.70" x2="450.96" y2="254.50" stroke="#000" stroke-width="1.1" />
<line x1="450.96" y1="6.30" x2="450.96" y2="8.50" stroke="#000" stroke-width="1.1" />
<line x1="465.58" y1="256.70" x2="465.58" y2="253.30" stroke="#000" stroke-width="1.1" />
<line x1="465.58" y1="6.30" x2="465.58" y2="9.70" stroke="#000" stroke-width="1.1" />
<line x1="501.20" y1="256.70" x2="501.20" y2="253.30" stroke="#000" stroke-width="1.1" />
<line x1="501.20" y1="6.30" x2="501.20" y2="9.70" stroke="#000" stroke-width="1.1" />
<line x1="521.80" y1="256.70" x2="521.80" y2="254.50" stroke="#000" stroke-width="1.1" />
<line x1="521.80" y1="6.30" x2="521.80" y2="8.50" stroke="#000" stroke-width="1.1" />
<line x1="542.30" y1="256.70" x2="542.30" y2="253.30" stroke="#000" stroke-width="1.1" />
<line x1="542.30" y1="6.30" x2="542.30" y2="9.70" stroke="#000" stroke-width="1.1" />
<line x1="562.80" y1="256.70" x2="562.80" y2="254.50" stroke="#000" stroke-width="1.1" />
<line x1="562.80" y1="6.30" x2="562.80" y2="8.50" stroke="#000" stroke-width="1.1" />
<line x1="334.30" y1="30.40" x2="337.80" y2="30.40" stroke="#000" stroke-width="1.2" />
<line x1="334.30" y1="54.80" x2="337.80" y2="54.80" stroke="#000" stroke-width="1.2" />
<line x1="334.30" y1="108.20" x2="337.80" y2="108.20" stroke="#000" stroke-width="1.2" />
<line x1="334.30" y1="157.70" x2="337.80" y2="157.70" stroke="#000" stroke-width="1.2" />
<line x1="334.30" y1="207.20" x2="337.80" y2="207.20" stroke="#000" stroke-width="1.2" />
<line x1="334.30" y1="18.20" x2="336.40" y2="18.20" stroke="#000" stroke-width="1.1" />
<line x1="334.30" y1="42.60" x2="336.40" y2="42.60" stroke="#000" stroke-width="1.1" />
<line x1="334.30" y1="67.00" x2="336.40" y2="67.00" stroke="#000" stroke-width="1.1" />
<line x1="334.30" y1="132.95" x2="336.40" y2="132.95" stroke="#000" stroke-width="1.1" />
<line x1="334.30" y1="182.45" x2="336.40" y2="182.45" stroke="#000" stroke-width="1.1" />
<line x1="334.30" y1="231.95" x2="336.40" y2="231.95" stroke="#000" stroke-width="1.1" />
<text x="329" y="36.7" font-size="14" text-anchor="end" font-weight="normal" fill="#1a1a1a" >2.1</text>
<text x="329" y="60.7" font-size="14" text-anchor="end" font-weight="normal" fill="#1a1a1a" >2.0</text>
<text x="329" y="114.4" font-size="14" text-anchor="end" font-weight="normal" fill="#1a1a1a" >1.6</text>
<text x="329" y="164.3" font-size="14" text-anchor="end" font-weight="normal" fill="#1a1a1a" >1.5</text>
<text x="329" y="213.6" font-size="14" text-anchor="end" font-weight="normal" fill="#1a1a1a" >1.4</text>
<text x="329" y="263.3" font-size="14" text-anchor="end" font-weight="normal" fill="#1a1a1a" >1.3</text>
<text transform="translate(306.6,134.05) rotate(-90)" font-size="13.6" text-anchor="middle" fill="#1a1a1a">Photon energy (eV)</text>
<text x="457.3" y="279.8" font-size="13.6" text-anchor="middle" font-weight="normal" fill="#1a1a1a" >k-space</text>
<text x="342.2" y="27.2" font-size="17.2" text-anchor="start" font-weight="bold" fill="#000" >b</text>
<line x1="377.7" y1="6.3" x2="377.7" y2="256.7" stroke="#444" stroke-width="0.9" stroke-dasharray="1,1.3"/>
<line x1="436.5" y1="6.3" x2="436.5" y2="256.7" stroke="#444" stroke-width="0.9" stroke-dasharray="1,1.3"/>
<polyline points="334.4,49.85 337.8,50.26 341.2,50.64 344.6,51.01 348.0,51.36 351.3,51.70 354.7,52.01 358.1,52.31 361.5,52.59 364.9,52.85 368.3,53.09 371.7,53.32 375.1,53.52 378.5,53.71 381.9,53.88 385.2,54.04 388.6,54.17 392.0,54.29 395.4,54.38 398.8,54.46 402.2,54.52 405.6,54.57 409.0,54.59 412.4,54.60 415.8,54.59 419.1,54.56 422.5,54.51 425.9,54.45 429.3,54.36 432.7,54.26 436.1,54.14 439.5,54.00 442.9,53.85 446.3,53.67 449.7,53.48 453.1,53.27 456.4,53.04 459.8,52.80 463.2,52.53 466.6,52.25 470.0,51.95" fill="none" stroke="#000" stroke-width="1.9"/>
<polyline points="377.7,257.66 378.4,255.44 379.2,253.24 379.9,251.04 380.6,248.84 381.4,246.65 382.1,244.47 382.8,242.30 383.6,240.14 384.3,237.99 385.1,235.84 385.8,233.71 386.5,231.59 387.3,229.49 388.0,227.40 388.7,225.33 389.5,223.27 390.2,221.23 390.9,219.22 391.7,217.22 392.4,215.26 393.1,213.32 393.9,211.41 394.6,209.54 395.3,207.71 396.1,205.92 396.8,204.18 397.5,202.50 398.3,200.87 399.0,199.31 399.8,197.83 400.5,196.43 401.2,195.12 402.0,193.92 402.7,192.83 403.4,191.86 404.2,191.03 404.9,190.34 405.6,189.81 406.4,189.44 407.1,189.24 407.8,189.21 408.6,189.35 409.3,189.66 410.0,190.13 410.8,190.76 411.5,191.54 412.2,192.46 413.0,193.51 413.7,194.67 414.4,195.95 415.2,197.31 415.9,198.77 416.7,200.30 417.4,201.90 418.1,203.57 418.9,205.29 419.6,207.06 420.3,208.88 421.1,210.74 421.8,212.63 422.5,214.56 423.3,216.51 424.0,218.50 424.7,220.50 425.5,222.53 426.2,224.58 426.9,226.65 427.7,228.73 428.4,230.83 429.1,232.95 429.9,235.07 430.6,237.21 431.4,239.36 432.1,241.52 432.8,243.69 433.6,245.87 434.3,248.05 435.0,250.24 435.8,252.44 436.5,254.65" fill="none" stroke="#b8b8c4" stroke-width="7" opacity="0.45" filter="url(#b2)"/>
<polyline points="377.7,256.51 378.4,253.89 379.2,251.27 379.9,248.66 380.6,246.06 381.4,243.46 382.1,240.88 382.8,238.30 383.6,235.73 384.3,233.18 385.1,230.63 385.8,228.10 386.5,225.58 387.3,223.07 388.0,220.58 388.7,218.11 389.5,215.66 390.2,213.23 390.9,210.82 391.7,208.44 392.4,206.08 393.1,203.76 393.9,201.47 394.6,199.22 395.3,197.02 396.1,194.86 396.8,192.76 397.5,190.71 398.3,188.74 399.0,186.85 399.8,185.04 400.5,183.33 401.2,181.73 402.0,180.25 402.7,178.90 403.4,177.71 404.2,176.68 404.9,175.82 405.6,175.16 406.4,174.70 407.1,174.45 407.8,174.41 408.6,174.59 409.3,174.97 410.0,175.56 410.8,176.35 411.5,177.32 412.2,178.45 413.0,179.75 413.7,181.18 414.4,182.74 415.2,184.41 415.9,186.18 416.7,188.05 417.4,190.00 418.1,192.01 418.9,194.09 419.6,196.23 420.3,198.42 421.1,200.65 421.8,202.93 422.5,205.24 423.3,207.58 424.0,209.96 424.7,212.36 425.5,214.78 426.2,217.22 426.9,219.69 427.7,222.17 428.4,224.67 429.1,227.19 429.9,229.72 430.6,232.26 431.4,234.81 432.1,237.37 432.8,239.95 433.6,242.53 434.3,245.12 435.0,247.72 435.8,250.33 436.5,252.94" fill="none" stroke="#f00" stroke-width="2.1" stroke-dasharray="2.4,2.6"/>
<polyline points="377.7,257.66 378.4,255.44 379.2,253.24 379.9,251.04 380.6,248.84 381.4,246.65 382.1,244.47 382.8,242.30 383.6,240.14 384.3,237.99 385.1,235.84 385.8,233.71 386.5,231.59 387.3,229.49 388.0,227.40 388.7,225.33 389.5,223.27 390.2,221.23 390.9,219.22 391.7,217.22 392.4,215.26 393.1,213.32 393.9,211.41 394.6,209.54 395.3,207.71 396.1,205.92 396.8,204.18 397.5,202.50 398.3,200.87 399.0,199.31 399.8,197.83 400.5,196.43 401.2,195.12 402.0,193.92 402.7,192.83 403.4,191.86 404.2,191.03 404.9,190.34 405.6,189.81 406.4,189.44 407.1,189.24 407.8,189.21 408.6,189.35 409.3,189.66 410.0,190.13 410.8,190.76 411.5,191.54 412.2,192.46 413.0,193.51 413.7,194.67 414.4,195.95 415.2,197.31 415.9,198.77 416.7,200.30 417.4,201.90 418.1,203.57 418.9,205.29 419.6,207.06 420.3,208.88 421.1,210.74 421.8,212.63 422.5,214.56 423.3,216.51 424.0,218.50 424.7,220.50 425.5,222.53 426.2,224.58 426.9,226.65 427.7,228.73 428.4,230.83 429.1,232.95 429.9,235.07 430.6,237.21 431.4,239.36 432.1,241.52 432.8,243.69 433.6,245.87 434.3,248.05 435.0,250.24 435.8,252.44 436.5,254.65" fill="none" stroke="#0a14f0" stroke-width="2.1"/>
<path d="M383.8,86.8 L406.5,152 Q409,156 418,158.5 Q428,158 436.5,155.5" fill="none" stroke="#f00" stroke-width="2.1" stroke-dasharray="2.4,2.6"/>
<path d="M431,88 L408.5,152 Q406,156 395,158.5 Q386,158 377.7,155.3" fill="none" stroke="#f00" stroke-width="2.1" stroke-dasharray="2.4,2.6"/>
<path d="M377.7,93.5 L405.5,161.8 Q409,168 413,171 Q420,174.5 428,172.5 Q433,170.8 436.5,169.5" fill="none" stroke="#0a14f0" stroke-width="2.1"/>
<path d="M436.5,94 L409.8,161.8 Q406.5,168 402.5,171 Q395.5,174.5 387.5,172.5 Q382.5,170.8 377.7,169.8" fill="none" stroke="#0a14f0" stroke-width="2.1"/>
<polyline points="485.3,129.29 487.3,129.53 489.3,129.76 491.3,129.97 493.3,130.18 495.3,130.38 497.3,130.57 499.3,130.75 501.3,130.91 503.3,131.07 505.3,131.22 507.3,131.35 509.3,131.48 511.3,131.60 513.3,131.70 515.3,131.80 517.3,131.88 519.3,131.96 521.3,132.02 523.3,132.08 525.3,132.12 527.3,132.16 529.3,132.18 531.3,132.20 533.3,132.20 535.3,132.19 537.3,132.18 539.3,132.15 541.3,132.11 543.3,132.06 545.3,132.01 547.3,131.94 549.3,131.86 551.3,131.77 553.3,131.67 555.3,131.56 557.3,131.44 559.3,131.31 561.3,131.17 563.3,131.02 565.3,130.86 567.3,130.69 569.3,130.51 571.3,130.32 573.3,130.12 575.3,129.91 577.3,129.69 579.3,129.46 581.3,129.21" fill="none" stroke="#000" stroke-width="1.9" stroke-dasharray="3,4.72"/>
<g fill="none" stroke="#b4b4b4" stroke-width="2" stroke-linecap="round">
<path d="M443.2,48.6 C440,38 425,36 413,46.5"/>
<path d="M412.3,41.3 L412.3,47.8 L418.9,46.4"/>
<path d="M476.5,40 C474,31 458,29 446.5,45.5"/>
<path d="M445.5,39.6 L446,46.6 L451.1,44.7"/>
<path d="M484,51 C505,60 520,75 528,95 C532,106 533.5,115 533.5,125"/>
<path d="M530,120 L533.5,126 L537,120"/>
</g>
<path d="M434.5,180.5 C438,180 441,177 443,172 C445,165 446.5,148 449.2,147.8 C451.5,147.6 455,168 459,175.3 C461,178 460.5,139.5 462.7,139 C465,138.5 470,166 474.3,174.2 C476.5,178 477.5,141 480.3,140.4 C483,140 487,151.5 490.8,151 C494,150.5 495,143 497.5,140.5 C500,137.5 504,133 509,131.8" fill="none" stroke="#d8d8d8" stroke-width="6" filter="url(#b2)"/>
<path d="M434.5,180.5 C438,180 441,177 443,172 C445,165 446.5,148 449.2,147.8 C451.5,147.6 455,168 459,175.3 C461,178 460.5,139.5 462.7,139 C465,138.5 470,166 474.3,174.2 C476.5,178 477.5,141 480.3,140.4 C483,140 487,151.5 490.8,151 C494,150.5 495,143 497.5,140.5 C500,137.5 504,133 509,131.8" fill="none" stroke="#a8a8a8" stroke-width="3.4" filter="url(#b05)"/>
<path d="M434.5,180.5 C438,180 441,177 443,172 C445,165 446.5,148 449.2,147.8 C451.5,147.6 455,168 459,175.3 C461,178 460.5,139.5 462.7,139 C465,138.5 470,166 474.3,174.2 C476.5,178 477.5,141 480.3,140.4 C483,140 487,151.5 490.8,151 C494,150.5 495,143 497.5,140.5 C500,137.5 504,133 509,131.8" fill="none" stroke="#dcdcdc" stroke-width="1.2" filter="url(#b03)"/>
<circle cx="405.9" cy="56" r="3.6" fill="url(#sph)" filter="url(#b03)"/>
<circle cx="409.9" cy="53.2" r="3.6" fill="url(#sph)" filter="url(#b03)"/>
<circle cx="444.9" cy="50.3" r="3.6" fill="url(#sph)" filter="url(#b03)"/>
<circle cx="443.2" cy="54.9" r="3.6" fill="url(#sph)" filter="url(#b03)"/>
<circle cx="448.8" cy="54.9" r="3.6" fill="url(#sph)" filter="url(#b03)"/>
<circle cx="463" cy="45.9" r="3.6" fill="url(#sph)" filter="url(#b03)"/>
<circle cx="469.3" cy="44.8" r="3.6" fill="url(#sph)" filter="url(#b03)"/>
<circle cx="476.7" cy="43.8" r="3.6" fill="url(#sph)" filter="url(#b03)"/>
<circle cx="483.6" cy="42.2" r="3.6" fill="url(#sph)" filter="url(#b03)"/>
<circle cx="491" cy="40.1" r="3.6" fill="url(#sph)" filter="url(#b03)"/>
<circle cx="468.3" cy="50.7" r="3.6" fill="url(#sph)" filter="url(#b03)"/>
<circle cx="475.1" cy="49.6" r="3.6" fill="url(#sph)" filter="url(#b03)"/>
<circle cx="482.6" cy="48" r="3.6" fill="url(#sph)" filter="url(#b03)"/>
<circle cx="490" cy="47" r="3.6" fill="url(#sph)" filter="url(#b03)"/>
<circle cx="510.3" cy="130.4" r="3.6" fill="url(#sph)" filter="url(#b03)"/>
<circle cx="521.7" cy="131" r="3.6" fill="url(#sph)" filter="url(#b03)"/>
<circle cx="533" cy="131" r="3.6" fill="url(#sph)" filter="url(#b03)"/>
<circle cx="544.4" cy="130.4" r="3.6" fill="url(#sph)" filter="url(#b03)"/>
<circle cx="556.4" cy="130" r="3.6" fill="url(#sph)" filter="url(#b03)"/>
<circle cx="515" cy="134.2" r="3.6" fill="url(#sph)" filter="url(#b03)"/>
<circle cx="527.7" cy="135" r="3.6" fill="url(#sph)" filter="url(#b03)"/>
<circle cx="539.7" cy="134.7" r="3.6" fill="url(#sph)" filter="url(#b03)"/>
<circle cx="551" cy="133.2" r="3.6" fill="url(#sph)" filter="url(#b03)"/>
<text x="439.2" y="24.8" font-size="13.7" fill="#1a1a1a">1<tspan font-size="9" dy="-4.3">st</tspan><tspan dy="4.3"> B·Z</tspan></text>
<text x="531.5" y="49" font-size="12.5" text-anchor="middle" font-weight="normal" fill="#1a1a1a" >DX</text>
<text x="531.5" y="63.4" font-size="12.4" text-anchor="middle" font-weight="normal" fill="#1a1a1a" >reservoir</text>
<text x="464.8" y="120.8" font-size="12.3" fill="#1a1a1a"><tspan font-style="italic">IX</tspan> reservoir</text>
<text x="536" y="169.2" font-size="12.5" text-anchor="middle" font-weight="normal" fill="#1a1a1a" >Phonon-assisted</text>
<text x="535.3" y="183" font-size="12.3" text-anchor="middle" font-weight="normal" fill="#1a1a1a" >emission</text>
<line x1="442.60" y1="196.70" x2="465.00" y2="196.70" stroke="#000" stroke-width="1.7" />
<line x1="442.6" y1="212.0" x2="465" y2="212.0" stroke="#000" stroke-width="1.7" stroke-dasharray="4.6,3.4"/>
<line x1="442.6" y1="226.8" x2="465" y2="226.8" stroke="#f00" stroke-width="1.7" stroke-dasharray="4.6,3.4"/>
<line x1="442.6" y1="241.5" x2="465" y2="241.5" stroke="#0a14f0" stroke-width="1.7"/>
<text x="468.2" y="201.5" font-size="12.3" text-anchor="start" font-weight="normal" fill="#1a1a1a" >Direct exciton (DX)</text>
<text x="468.2" y="216.6" font-size="12.3" fill="#1a1a1a"><tspan font-style="italic">Indirect</tspan>-exciton (<tspan font-style="italic">IX</tspan>)</text>
<text x="468.2" y="231.5" font-size="12.4" text-anchor="start" font-weight="normal" fill="#1a1a1a" >Photon modes</text>
<text x="468.5" y="246.4" font-size="12.5" text-anchor="start" font-weight="normal" fill="#1a1a1a" >Lower polariton</text>
<path d="M581.9,36.7 L585,37.4 L595.7,39.2 L606.3,41 L617.2,42.7 L616,43.8 L608,44.5 L606.3,46.3 L607.2,47.3 L604.5,48.6 L605.4,50.3 L604.5,52 L607.2,53.9 L606.3,55.6 L603.6,58.3 L599.2,60.9 L594.8,64.5 L590.4,68 L586.8,72.4 L584.2,75 L581.9,75 Z" fill="url(#dxg)"/>
<path d="M581.9,5 L581.9,36.7 L585,37.4 L595.7,39.2 L606.3,41 L617.2,42.7 L616,43.8 L608,44.5 L606.3,46.3 L607.2,47.3 L604.5,48.6 L605.4,50.3 L604.5,52 L607.2,53.9 L606.3,55.6 L603.6,58.3 L599.2,60.9 L594.8,64.5 L590.4,68 L586.8,72.4 L584.2,75" fill="none" stroke="#7a7a7a" stroke-width="1.4"/>
<path d="M585.50,86.00 C585.83,88.33 586.58,95.50 587.50,100.00 C588.42,104.50 589.50,108.33 591.00,113.00 C592.50,117.67 594.42,123.50 596.50,128.00 C598.58,132.50 600.92,136.42 603.50,140.00 C606.08,143.58 608.75,146.45 612.00,149.50 C615.25,152.55 619.33,155.30 623.00,158.30 C626.67,161.30 630.58,164.47 634.00,167.50 C637.42,170.53 641.92,175.00 643.50,176.50 L643.0,176.5 L645.2,177.5 L645.7,178.5 L647.5,179.6 L648.5,180.6 L647.4,181.6 L648.0,182.6 L651.5,183.6 L650.1,184.6 L650.5,185.7 L653.6,186.7 L652.1,187.7 L653.7,188.7 L652.6,189.7 L653.3,190.7 L651.6,191.8 L653.2,192.8 L653.9,193.8 L652.5,194.8 L652.9,195.8 L652.3,196.8 L649.7,197.8 L651.6,198.9 L650.3,199.9 L648.6,200.9 L646.9,201.9 L648.9,202.9 L646.6,203.9 L646.4,205.0 L645.8,206.0 L644.0,207.0 L643.40,207.40 C642.10,208.43 638.72,211.53 635.60,213.60 C632.48,215.67 628.58,217.72 624.70,219.80 C620.82,221.88 616.18,224.28 612.30,226.10 C608.42,227.92 604.52,229.15 601.40,230.70 C598.28,232.25 595.95,233.57 593.60,235.40 C591.25,237.23 588.87,239.37 587.30,241.70 C585.73,244.03 584.97,247.33 584.20,249.40 C583.43,251.47 583.07,253.17 582.70,254.10 C582.33,255.03 582.12,254.85 582.00,255.00 L581.9,86 Z" fill="url(#ixg)"/>
<path d="M585.50,86.00 C585.83,88.33 586.58,95.50 587.50,100.00 C588.42,104.50 589.50,108.33 591.00,113.00 C592.50,117.67 594.42,123.50 596.50,128.00 C598.58,132.50 600.92,136.42 603.50,140.00 C606.08,143.58 608.75,146.45 612.00,149.50 C615.25,152.55 619.33,155.30 623.00,158.30 C626.67,161.30 630.58,164.47 634.00,167.50 C637.42,170.53 641.92,175.00 643.50,176.50 L643.0,176.5 L645.2,177.5 L645.7,178.5 L647.5,179.6 L648.5,180.6 L647.4,181.6 L648.0,182.6 L651.5,183.6 L650.1,184.6 L650.5,185.7 L653.6,186.7 L652.1,187.7 L653.7,188.7 L652.6,189.7 L653.3,190.7 L651.6,191.8 L653.2,192.8 L653.9,193.8 L652.5,194.8 L652.9,195.8 L652.3,196.8 L649.7,197.8 L651.6,198.9 L650.3,199.9 L648.6,200.9 L646.9,201.9 L648.9,202.9 L646.6,203.9 L646.4,205.0 L645.8,206.0 L644.0,207.0 L643.40,207.40 C642.10,208.43 638.72,211.53 635.60,213.60 C632.48,215.67 628.58,217.72 624.70,219.80 C620.82,221.88 616.18,224.28 612.30,226.10 C608.42,227.92 604.52,229.15 601.40,230.70 C598.28,232.25 595.95,233.57 593.60,235.40 C591.25,237.23 588.87,239.37 587.30,241.70 C585.73,244.03 584.97,247.33 584.20,249.40 C583.43,251.47 583.07,253.17 582.70,254.10 C582.33,255.03 582.12,254.85 582.00,255.00" fill="none" stroke="#7a7a7a" stroke-width="1.3"/>
<line x1="581.80" y1="4.70" x2="581.80" y2="74.50" stroke="#333" stroke-width="1.1" />
<line x1="581.80" y1="87.00" x2="581.80" y2="255.00" stroke="#333" stroke-width="1.1" />
<path d="M576.1,76.6 C578.0,80.5 580.0,80.5 581.8,76.3 S585.6,72.1 587.5,76.0" fill="none" stroke="#000" stroke-width="1.3"/><path d="M576.1,84.6 C578.0,88.5 580.0,88.5 581.8,84.3 S585.6,80.1 587.5,84.0" fill="none" stroke="#000" stroke-width="1.3"/>
<line x1="659.20" y1="4.10" x2="659.20" y2="74.50" stroke="#000" stroke-width="1.5" />
<line x1="659.20" y1="87.00" x2="659.20" y2="255.70" stroke="#000" stroke-width="1.5" />
<path d="M653.5,76.6 C655.4,80.5 657.4,80.5 659.2,76.3 S663.0,72.1 664.9,76.0" fill="none" stroke="#000" stroke-width="1.3"/><path d="M653.5,84.6 C655.4,88.5 657.4,88.5 659.2,84.3 S663.0,80.1 664.9,84.0" fill="none" stroke="#000" stroke-width="1.3"/>
<line x1="581.30" y1="4.70" x2="659.90" y2="4.70" stroke="#000" stroke-width="1.4" />
<line x1="581.30" y1="255.00" x2="659.90" y2="255.00" stroke="#000" stroke-width="1.5" />
<line x1="588.20" y1="255.00" x2="588.20" y2="253.00" stroke="#000" stroke-width="1.1" />
<line x1="588.20" y1="4.70" x2="588.20" y2="6.70" stroke="#000" stroke-width="1.1" />
<line x1="594.68" y1="255.00" x2="594.68" y2="251.60" stroke="#000" stroke-width="1.1" />
<line x1="594.68" y1="4.70" x2="594.68" y2="8.10" stroke="#000" stroke-width="1.1" />
<line x1="601.16" y1="255.00" x2="601.16" y2="253.00" stroke="#000" stroke-width="1.1" />
<line x1="601.16" y1="4.70" x2="601.16" y2="6.70" stroke="#000" stroke-width="1.1" />
<line x1="607.64" y1="255.00" x2="607.64" y2="251.60" stroke="#000" stroke-width="1.1" />
<line x1="607.64" y1="4.70" x2="607.64" y2="8.10" stroke="#000" stroke-width="1.1" />
<line x1="614.12" y1="255.00" x2="614.12" y2="253.00" stroke="#000" stroke-width="1.1" />
<line x1="614.12" y1="4.70" x2="614.12" y2="6.70" stroke="#000" stroke-width="1.1" />
<line x1="620.60" y1="255.00" x2="620.60" y2="251.60" stroke="#000" stroke-width="1.1" />
<line x1="620.60" y1="4.70" x2="620.60" y2="8.10" stroke="#000" stroke-width="1.1" />
<line x1="627.08" y1="255.00" x2="627.08" y2="253.00" stroke="#000" stroke-width="1.1" />
<line x1="627.08" y1="4.70" x2="627.08" y2="6.70" stroke="#000" stroke-width="1.1" />
<line x1="633.56" y1="255.00" x2="633.56" y2="251.60" stroke="#000" stroke-width="1.1" />
<line x1="633.56" y1="4.70" x2="633.56" y2="8.10" stroke="#000" stroke-width="1.1" />
<line x1="640.04" y1="255.00" x2="640.04" y2="253.00" stroke="#000" stroke-width="1.1" />
<line x1="640.04" y1="4.70" x2="640.04" y2="6.70" stroke="#000" stroke-width="1.1" />
<line x1="646.52" y1="255.00" x2="646.52" y2="251.60" stroke="#000" stroke-width="1.1" />
<line x1="646.52" y1="4.70" x2="646.52" y2="8.10" stroke="#000" stroke-width="1.1" />
<line x1="653.00" y1="255.00" x2="653.00" y2="253.00" stroke="#000" stroke-width="1.1" />
<line x1="653.00" y1="4.70" x2="653.00" y2="6.70" stroke="#000" stroke-width="1.1" />
<line x1="659.20" y1="29.20" x2="655.00" y2="29.20" stroke="#000" stroke-width="1.2" />
<line x1="581.80" y1="29.20" x2="578.80" y2="29.20" stroke="#000" stroke-width="1.1" />
<line x1="659.20" y1="53.40" x2="655.00" y2="53.40" stroke="#000" stroke-width="1.2" />
<line x1="581.80" y1="53.40" x2="578.80" y2="53.40" stroke="#000" stroke-width="1.1" />
<line x1="659.20" y1="106.80" x2="655.00" y2="106.80" stroke="#000" stroke-width="1.2" />
<line x1="581.80" y1="106.80" x2="578.80" y2="106.80" stroke="#000" stroke-width="1.1" />
<line x1="659.20" y1="156.20" x2="655.00" y2="156.20" stroke="#000" stroke-width="1.2" />
<line x1="581.80" y1="156.20" x2="578.80" y2="156.20" stroke="#000" stroke-width="1.1" />
<line x1="659.20" y1="205.60" x2="655.00" y2="205.60" stroke="#000" stroke-width="1.2" />
<line x1="581.80" y1="205.60" x2="578.80" y2="205.60" stroke="#000" stroke-width="1.1" />
<line x1="659.20" y1="17.10" x2="657.00" y2="17.10" stroke="#000" stroke-width="1.1" />
<line x1="659.20" y1="41.30" x2="657.00" y2="41.30" stroke="#000" stroke-width="1.1" />
<line x1="659.20" y1="65.50" x2="657.00" y2="65.50" stroke="#000" stroke-width="1.1" />
<line x1="659.20" y1="131.50" x2="657.00" y2="131.50" stroke="#000" stroke-width="1.1" />
<line x1="659.20" y1="180.90" x2="657.00" y2="180.90" stroke="#000" stroke-width="1.1" />
<line x1="659.20" y1="230.30" x2="657.00" y2="230.30" stroke="#000" stroke-width="1.1" />
<text x="665.6" y="36.7" font-size="14" text-anchor="start" font-weight="normal" fill="#1a1a1a" >2.1</text>
<text x="665.6" y="60.7" font-size="14" text-anchor="start" font-weight="normal" fill="#1a1a1a" >2.0</text>
<text x="665.6" y="114.4" font-size="14" text-anchor="start" font-weight="normal" fill="#1a1a1a" >1.6</text>
<text x="665.6" y="164.3" font-size="14" text-anchor="start" font-weight="normal" fill="#1a1a1a" >1.5</text>
<text x="665.6" y="213.6" font-size="14" text-anchor="start" font-weight="normal" fill="#1a1a1a" >1.4</text>
<text x="665.6" y="263.3" font-size="14" text-anchor="start" font-weight="normal" fill="#1a1a1a" >1.3</text>
<text x="592.6" y="27.8" font-size="18" text-anchor="start" font-weight="bold" fill="#000" >c</text>
<text x="620.5" y="61.5" font-size="12.4" text-anchor="middle" font-weight="normal" fill="#1a1a1a" >DX</text>
<text x="610.1" y="189.1" font-size="12.3" text-anchor="middle" fill="#111"><tspan font-style="italic">IX</tspan> related</text>
<text x="610.25" y="203.5" font-size="12.4" text-anchor="middle" font-weight="normal" fill="#111" >emission</text>
<text x="621.8" y="280.1" font-size="13.75" text-anchor="middle" font-weight="normal" fill="#1a1a1a" >PL intensity (a. u.)</text>
</svg></body></html>
